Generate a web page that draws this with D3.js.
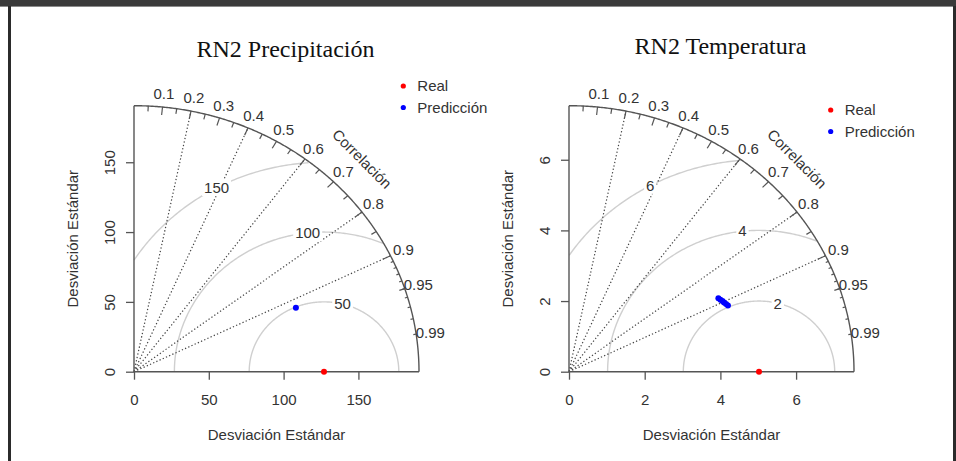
<!DOCTYPE html>
<html>
<head>
<meta charset="utf-8">
<script src="https://cdn.jsdelivr.net/npm/d3@7"></script>
<style>
  html, body { margin: 0; padding: 0; background: #fff; }
  svg { display: block; }
  text { font-family: "Liberation Sans", Arial, sans-serif; fill: #333; }
</style>
</head>
<body>
<svg id="chart" width="956" height="461"></svg>
<script>
// 相关系数刻度
const corrTicks = [0.1, 0.2, 0.3, 0.4, 0.5, 0.6, 0.7, 0.8, 0.9, 0.95, 0.99]
const corrMedTicks = [0.05, 0.15, 0.25, 0.35, 0.45, 0.55, 0.65, 0.75, 0.85, 0.95]
const corrSmlTicks = [0.91, 0.92, 0.93, 0.94, 0.95, 0.96, 0.97, 0.98, 0.99]
const corrLines = [0.2, 0.4, 0.6, 0.8, 0.9]

// RN2 Precipitación
const precipRefSd = 127
const precipPredSd = [117.5]
const precipPredCor = [0.921]
const precipGamma = [50, 100, 150]
const precipSdTicks = [0, 50, 100, 150]

// RN2 Temperatura
const tempRefSd = 5.02
const tempPredSd = [4.46, 4.49, 4.52, 4.54, 4.57, 4.6]
const tempPredCor = [0.885, 0.891, 0.897, 0.902, 0.908, 0.913]
const tempGamma = [2, 4, 6]
const tempSdTicks = [0, 2, 4, 6]

const legendLabels = ['Real', 'Predicción']
const legendColors = ['#ff0000', '#0000ff']

const FONT = '15px'
const svg = d3.select('#chart')

// 页面边框
svg.append('rect').attr('x', 0).attr('y', 0).attr('width', 956).attr('height', 6).attr('fill', '#3a3a3a')
svg.append('rect').attr('x', 0).attr('y', 6).attr('width', 956).attr('height', 1).attr('fill', '#8a8a8a')
svg.append('rect').attr('x', 8).attr('y', 6).attr('width', 3).attr('height', 455).attr('fill', '#2b2b2b')
svg.append('rect').attr('x', 953).attr('y', 6).attr('width', 3).attr('height', 455).attr('fill', '#2b2b2b')

const PLOT_W = 285
const PLOT_H = 266
const BASE_Y = 371.7

function taylor({ox, title, titleY, refSd, predSd, predCor, gamma, sdTicks, legendX, legendY}) {
  const maxsd = 1.5 * Math.max(refSd, d3.max(predSd))
  const x = d3.scaleLinear().domain([0, maxsd]).range([ox, ox + PLOT_W])
  const y = d3.scaleLinear().domain([0, maxsd]).range([BASE_Y, BASE_Y - PLOT_H])
  const g = svg.append('g')
  const line = d3.line().x((d) => x(d[0])).y((d) => y(d[1]))
  const polar = (r, a) => [r * Math.cos(a), r * Math.sin(a)]

  // 标题
  g.append('text')
    .attr('x', x(maxsd / 2) + 9)
    .attr('y', titleY)
    .attr('text-anchor', 'middle')
    .style('font-family', '"Liberation Serif", "Times New Roman", serif')
    .style('font-size', '24px')
    .style('fill', '#111')
    .text(title)

  // RMS 等值线
  gamma.forEach((gm) => {
    const pts = d3.range(0, Math.PI + 0.001, 0.01)
      .map((a) => [refSd + gm * Math.cos(a), gm * Math.sin(a)])
      .filter((p) => p[0] >= 0 && p[0] * p[0] + p[1] * p[1] <= maxsd * maxsd)
    g.append('path').attr('d', line(pts)).attr('fill', 'none').attr('stroke', '#cfcfcf').attr('stroke-width', 1.4)
  })

  // 相关系数射线
  corrLines.forEach((c) => {
    const a = Math.acos(c)
    g.append('path')
      .attr('d', line([[0, 0], polar(maxsd, a)]))
      .attr('stroke', '#444')
      .attr('stroke-width', 1.2)
      .attr('stroke-dasharray', '1.3,2.2')
  })

  // 外弧
  const outer = d3.range(0, Math.PI / 2 + 0.005, 0.005).map((a) => polar(maxsd, Math.min(a, Math.PI / 2)))
  g.append('path').attr('d', line(outer)).attr('fill', 'none').attr('stroke', '#555').attr('stroke-width', 1.4)

  // 弧上刻度
  const tickSet = [
    [corrTicks.slice(0, 9), 0.97],
    [corrMedTicks, 0.98],
    [corrSmlTicks, 0.99],
  ]
  tickSet.forEach(([ticks, k]) => {
    ticks.forEach((c) => {
      const a = Math.acos(c)
      g.append('path').attr('d', line([polar(maxsd, a), polar(maxsd * k, a)])).attr('stroke', '#555').attr('stroke-width', 1.2)
    })
  })

  // 相关系数标签
  corrTicks.forEach((c) => {
    const p = polar(maxsd * 1.05, Math.acos(c))
    g.append('text')
      .attr('x', x(p[0]))
      .attr('y', y(p[1]))
      .attr('dy', '0.35em')
      .attr('text-anchor', 'middle')
      .style('font-size', FONT)
      .text(c)
  })

  g.append('text')
    .attr('transform', `translate(${x(maxsd * 0.8)},${y(maxsd * 0.8)}) rotate(45)`)
    .attr('dy', '0.35em')
    .attr('text-anchor', 'middle')
    .style('font-size', FONT)
    .text('Correlación')

  // 轴
  g.append('path').attr('d', line([[0, 0], [maxsd, 0]])).attr('stroke', '#555').attr('stroke-width', 1.4)
  g.append('path').attr('d', line([[0, 0], [0, maxsd]])).attr('stroke', '#555').attr('stroke-width', 1.4)

  const ax = g.append('g')
    .attr('transform', `translate(0,${BASE_Y})`)
    .call(d3.axisBottom(x).tickValues(sdTicks).tickSize(8).tickPadding(15).tickFormat(d3.format('d')))
  const ay = g.append('g')
    .attr('transform', `translate(${ox},0)`)
    .call(d3.axisLeft(y).tickValues(sdTicks).tickSize(8).tickFormat(d3.format('d')))
  ;[ax, ay].forEach((a) => {
    a.select('.domain').remove()
    a.selectAll('line').attr('stroke', '#555').attr('stroke-width', 1.3)
    a.selectAll('text').style('font-size', FONT).style('font-family', '"Liberation Sans", Arial, sans-serif').attr('fill', '#333')
  })
  ay.selectAll('text')
    .attr('x', null)
    .attr('dy', null)
    .attr('text-anchor', 'middle')
    .attr('transform', 'translate(-19,0) rotate(-90)')

  // 轴标题
  g.append('text')
    .attr('x', x(maxsd / 2))
    .attr('y', 440)
    .attr('text-anchor', 'middle')
    .style('font-size', FONT)
    .text('Desviación Estándar')
  g.append('text')
    .attr('transform', `translate(${ox - 56},${y(maxsd / 2)}) rotate(-90)`)
    .attr('text-anchor', 'middle')
    .style('font-size', FONT)
    .text('Desviación Estándar')

  // 点
  g.append('circle').attr('cx', x(refSd)).attr('cy', y(0)).attr('r', 3).attr('fill', legendColors[0])
  g.selectAll('circle.pred')
    .data(predSd.map((s, i) => polar(s, Math.acos(predCor[i]))))
    .join('circle')
    .attr('class', 'pred')
    .attr('cx', (d) => x(d[0]))
    .attr('cy', (d) => y(d[1]))
    .attr('r', 3)
    .attr('fill', legendColors[1])

  // RMS 标签（白底）
  const labelAngles = [44, 56, 69].map((i) => i * 0.03)
  gamma.forEach((gm, gi) => {
    const px = refSd + gm * Math.cos(labelAngles[gi])
    const py = gm * Math.sin(labelAngles[gi])
    if (px <= 0) return
    const t = g.append('text')
      .attr('x', x(px))
      .attr('y', y(py))
      .attr('dy', '0.35em')
      .attr('text-anchor', 'middle')
      .style('font-size', FONT)
      .text(gm)
    const bb = t.node().getBBox()
    g.insert('rect', () => t.node())
      .attr('x', bb.x - 2)
      .attr('y', bb.y)
      .attr('width', bb.width + 4)
      .attr('height', bb.height)
      .attr('fill', '#fff')
  })

  // 图例
  legendLabels.forEach((l, i) => {
    g.append('circle').attr('cx', legendX).attr('cy', legendY + i * 21.5).attr('r', 2.6).attr('fill', legendColors[i])
    g.append('text')
      .attr('x', legendX + 14)
      .attr('y', legendY + i * 21.5)
      .attr('dy', '0.35em')
      .style('font-size', FONT)
      .text(l)
  })
}

taylor({
  ox: 134,
  title: 'RN2 Precipitación',
  titleY: 57,
  refSd: precipRefSd,
  predSd: precipPredSd,
  predCor: precipPredCor,
  gamma: precipGamma,
  sdTicks: precipSdTicks,
  legendX: 403.3,
  legendY: 86,
})

taylor({
  ox: 569,
  title: 'RN2 Temperatura',
  titleY: 54,
  refSd: tempRefSd,
  predSd: tempPredSd,
  predCor: tempPredCor,
  gamma: tempGamma,
  sdTicks: tempSdTicks,
  legendX: 830.7,
  legendY: 110,
})
</script>
</body>
</html>
